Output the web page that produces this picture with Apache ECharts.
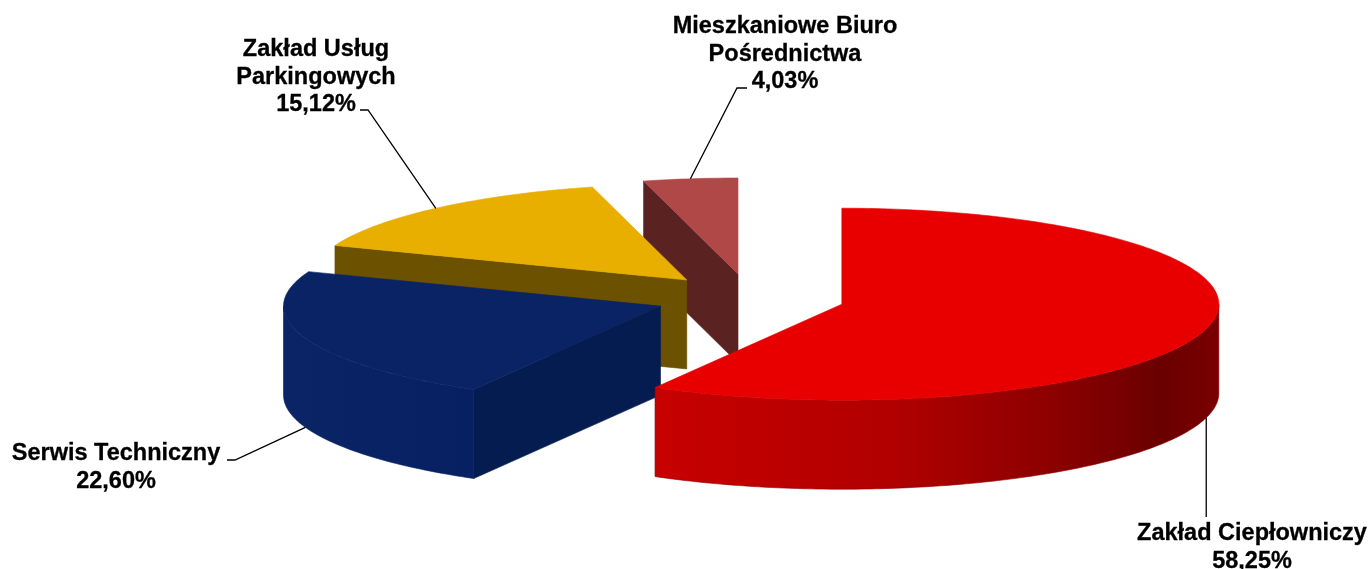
<!DOCTYPE html>
<html>
<head>
<meta charset="utf-8">
<script src="https://cdn.jsdelivr.net/npm/echarts@6/dist/echarts.min.js"></script>
<style>
  html, body { margin: 0; padding: 0; background: #ffffff; }
  #chart { width: 1370px; height: 569px; }
</style>
</head>
<body>
<div id="chart"></div>
<script>
// Shares of the municipal units (percent)
const categories = ['Zakład Ciepłowniczy', 'Serwis Techniczny', 'Zakład Usług Parkingowych', 'Mieszkaniowe Biuro Pośrednictwa'];
const labelNames = ['Zakład Ciepłowniczy', 'Serwis Techniczny', 'Zakład Usług\nParkingowych', 'Mieszkaniowe Biuro\nPośrednictwa'];
const shares = [58.25, 22.60, 15.12, 4.03];

// Colours: top face, outer rim, cut (radial) face
const topColors = ['#E80000', '#0A2364', '#E8AE00', '#B14848'];
const rimStops = [
  [[0, '#C80000'], [0.43, '#B00000'], [0.72, '#8A0000'], [0.9, '#6A0000'], [1, '#7A0000']],
  [[0, '#0B2466'], [1, '#072062']],
  [[0, '#6B5000'], [1, '#6B5000']],
  [[0, '#5A2222'], [1, '#5A2222']]
];
const cutColors = ['#A00000', '#041C4F', '#6C5100', '#5B2222'];

// Pie layout (pixels)
const PIE = { cx: 750, cy: 298, rx: 377, ry: 96, depth: 89, explode: 95 };

// Leader-line bends and label anchor per slice (null x = keep the anchor's x)
const labelLayout = [
  { bends: [[null, 517]], text: [1252, 520] },
  { bends: [[235, 460], [227, 460]], text: [116, 440] },
  { bends: [[368, 110], [360, 110]], text: [316, 36] },
  { bends: [[737, 88], [747, 88]], text: [785, 13] }
];

const LABEL_FONT = 'bold 23.5px "Liberation Sans", Arial, sans-serif';

function fmtPct(v) {
  return v.toFixed(2).replace('.', ',') + '%';
}

function rimPoint(c, a, dz) {
  return [c[0] + PIE.rx * Math.sin(a), c[1] - PIE.ry * Math.cos(a) + (dz || 0)];
}

function arc(c, a0, a1, dz) {
  const pts = [];
  const n = Math.max(2, Math.ceil(Math.abs(a1 - a0) / (Math.PI / 180)));
  for (let k = 0; k <= n; k++) {
    pts.push(rimPoint(c, a0 + (a1 - a0) * k / n, dz));
  }
  return pts;
}

// Build the projected geometry of every slice from the shares
function buildGeometry() {
  const total = shares.reduce((s, v) => s + v, 0);
  const geom = [];
  let acc = 0;
  shares.forEach((v, i) => {
    const a0 = acc / total * Math.PI * 2;
    acc += v;
    const a1 = acc / total * Math.PI * 2;
    const mid = (a0 + a1) / 2;
    const c = [
      PIE.cx + PIE.explode * Math.sin(mid),
      PIE.cy - PIE.explode * (PIE.ry / PIE.rx) * Math.cos(mid)
    ];
    const h = PIE.depth;
    const top = [c].concat(arc(c, a0, a1, 0));
    const faces = [];

    // outer rim: only the part facing the viewer
    const s = Math.max(a0, Math.PI / 2), e = Math.min(a1, Math.PI * 1.5);
    if (e > s) {
      const upper = arc(c, s, e, 0);
      const lower = arc(c, e, s, h);
      const xs = upper.map(p => p[0]);
      const xMin = Math.min.apply(null, xs), xMax = Math.max.apply(null, xs);
      faces.push({
        points: upper.concat(lower),
        fill: {
          type: 'linear', x: xMin, y: 0, x2: xMax, y2: 0, global: true,
          colorStops: rimStops[i].map(st => ({ offset: st[0], color: st[1] }))
        },
        stroke: rimStops[i][Math.floor(rimStops[i].length / 2)][1]
      });
    }
    // cut faces that turn toward the viewer
    [[a0, a0 - Math.PI / 2], [a1, a1 + Math.PI / 2]].forEach(([a, n]) => {
      if (Math.cos(n) < -1e-6) {
        const p = rimPoint(c, a, 0);
        faces.push({
          points: [c, p, [p[0], p[1] + h], [c[0], c[1] + h]],
          fill: cutColors[i],
          stroke: cutColors[i]
        });
      }
    });

    const front = Math.max.apply(null, top.map(p => p[1]));
    const anchor = Math.cos(mid) < 0 ? rimPoint(c, mid, h) : rimPoint(c, mid, 0);
    geom.push({ top, faces, front, anchor, value: v });
  });
  // painter's order: back slices first
  const order = geom.map((g, i) => i).sort((p, q) => geom[p].front - geom[q].front);
  order.forEach((idx, r) => { geom[idx].rank = r; });
  return geom;
}

const geom = buildGeometry();

function renderItem(params) {
  const i = params.dataIndex;
  const g = geom[i];
  const base = g.rank * 10;
  const children = [];
  g.faces.forEach(f => {
    children.push({
      type: 'polygon', z2: base + 1,
      shape: { points: f.points },
      style: { fill: f.fill, stroke: f.stroke, lineWidth: 0.6 }
    });
  });
  children.push({
    type: 'polygon', z2: base + 2,
    shape: { points: g.top },
    style: { fill: topColors[i], stroke: topColors[i], lineWidth: 0.6 }
  });
  const lay = labelLayout[i];
  const bends = lay.bends.map(b => [b[0] === null ? g.anchor[0] : b[0], b[1]]);
  children.push({
    type: 'polyline', z2: 100,
    shape: { points: [g.anchor].concat(bends) },
    style: { stroke: '#000000', lineWidth: 1.3, fill: null }
  });
  children.push({
    type: 'text', z2: 101,
    style: {
      text: labelNames[i] + '\n' + fmtPct(g.value),
      x: lay.text[0], y: lay.text[1],
      font: LABEL_FONT,
      fill: '#000000',
      stroke: '#000000', lineWidth: 0.3,
      align: 'center',
      verticalAlign: 'top',
      lineHeight: 27.5
    }
  });
  return { type: 'group', children };
}

const chart = echarts.init(document.getElementById('chart'), null, { renderer: 'canvas' });
chart.setOption({
  backgroundColor: '#ffffff',
  animation: false,
  series: [{
    type: 'custom',
    name: 'Udział',
    coordinateSystem: 'none',
    renderItem: renderItem,
    data: shares.map((v, i) => ({ name: categories[i], value: v }))
  }]
});
</script>
</body>
</html>
